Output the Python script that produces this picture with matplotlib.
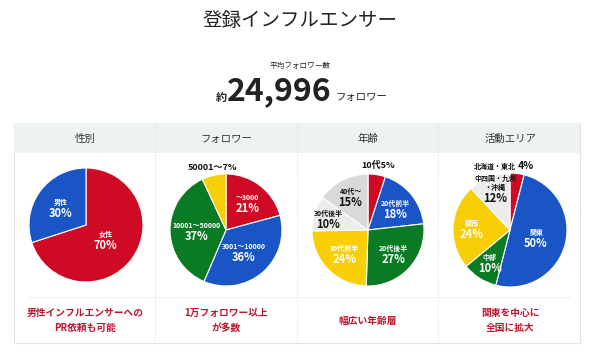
import math
import matplotlib
matplotlib.use("Agg")
import matplotlib.pyplot as plt
from matplotlib.patches import Rectangle

plt.rcParams['font.family'] = ['Noto Sans CJK JP', 'DejaVu Sans']

# data
title = "登録インフルエンサー"
avg_label = "平均フォロワー数"
avg_value = "24,996"

headers = ["性別", "フォロワー", "年齢", "活動エリア"]
notes = ["男性インフルエンサーへの\nPR依頼も可能", "1万フォロワー以上\nが多数",
         "幅広い年齢層", "関東を中心に\n全国に拡大"]

gender_names = ["女性", "男性"]
gender_vals = [70, 30]

follower_names = ["〜3000", "3001〜10000", "10001〜50000", "50001〜"]
follower_vals = [21, 36, 37, 7]

age_names = ["10代", "20代前半", "20代後半", "30代前半", "30代後半", "40代〜"]
age_vals = [5, 18, 27, 24, 10, 15]

area_names = ["北海道・東北", "関東", "中部", "関西", "中四国・九州\n・沖縄"]
area_vals = [4, 50, 10, 24, 12]

RED = "#cf0a25"
BLUE = "#1a55c6"
GREEN = "#0b7a24"
YELLOW = "#f8cf06"
GRAY1 = "#ececec"
GRAY2 = "#d9d9d9"
NOTE_RED = "#c0142e"

W, H = 600, 356
fig = plt.figure(figsize=(W / 100, H / 100), dpi=100)
ax = fig.add_axes([0, 0, 1, 1])


def Y(y):
    return H - y


# title block
ax.text(300, Y(20), title, ha="center", va="center", fontsize=14, color="#222222")
ax.text(300, Y(66), avg_label, ha="center", va="center", fontsize=5.5, color="#222222")
ax.text(221, Y(97), "約", ha="center", va="center", fontsize=8, fontweight="bold", color="#222222")
ax.text(279, Y(91), avg_value, ha="center", va="center", fontsize=23, fontweight="bold", color="#222222")
ax.text(361, Y(97), "フォロワー", ha="center", va="center", fontsize=7.5, color="#222222")

# table frame
left, right, top, head_bot, bottom = 14, 580, 123, 153, 343
ax.add_patch(Rectangle((left, Y(bottom)), right - left, bottom - top,
                       facecolor="white", edgecolor="#e2e2e2", linewidth=0.8, zorder=0))
ax.add_patch(Rectangle((left, Y(head_bot)), right - left, head_bot - top,
                       facecolor="#eef2f3", edgecolor="none", zorder=0.5))
for x in [155, 297, 438]:
    ax.plot([x, x], [Y(top), Y(bottom)], color="#dddddd", linewidth=0.6, linestyle=(0, (1, 1)), zorder=0.6)
ax.plot([28, 570], [Y(297), Y(297)], color="#e2e2e2", linewidth=0.6, linestyle=(0, (2, 1)), zorder=0.6)

col_x = [85, 226, 368, 510]
for cx, h, n in zip(col_x, headers, notes):
    ax.text(cx, Y(139), h, ha="center", va="center", fontsize=7.5, color="#333333")
    ax.text(cx, Y(320.5), n, ha="center", va="center", fontsize=7, fontweight="bold",
            color=NOTE_RED, linespacing=1.6)


def draw_pie(cx, cy, r, vals, names, colors, dists, txt_colors, fmt):
    wedges, _ = ax.pie(vals, colors=colors, startangle=90, counterclock=False,
                       center=(cx, Y(cy)), radius=r, frame=True,
                       wedgeprops=dict(edgecolor="white", linewidth=0.8))
    for w, v, nm, d, tc, f in zip(wedges, vals, names, dists, txt_colors, fmt):
        a = math.radians((w.theta1 + w.theta2) / 2)
        px = cx + d * r * math.cos(a)
        py = Y(cy) + d * r * math.sin(a)
        if f == "inline":
            ax.text(px, py, f"{nm}{v}%", ha="center", va="center", fontsize=6.5,
                    fontweight="bold", color=tc)
        elif f == "split":
            ax.text(px - 2, py, nm, ha="right", va="center", fontsize=5, fontweight="bold", color=tc)
            ax.text(px + 16, py, f"{v}%", ha="right", va="center", fontsize=7.5, fontweight="bold", color=tc)
        else:
            ax.text(px, py + 1, nm, ha="center", va="bottom", fontsize=5, fontweight="bold",
                    color=tc, linespacing=1.3)
            ax.text(px, py, f"{v}%", ha="center", va="top", fontsize=8, fontweight="bold", color=tc)


W_, K_ = "white", "#111111"
draw_pie(86, 225, 57, gender_vals, gender_names, [RED, BLUE],
         [0.42, 0.54], [W_, W_], ["stack"] * 2)
draw_pie(226, 230, 56, follower_vals, follower_names, [RED, BLUE, GREEN, YELLOW],
         [0.64, 0.49, 0.52, 1.14], [W_, W_, W_, K_], ["stack"] * 3 + ["inline"])
draw_pie(368, 230, 56, age_vals, age_names, [RED, BLUE, GREEN, YELLOW, GRAY1, GRAY2],
         [1.16, 0.63, 0.61, 0.59, 0.75, 0.68], [K_, W_, W_, W_, K_, K_], ["inline"] + ["stack"] * 5)
draw_pie(510, 230, 57, area_vals, area_names, [RED, BLUE, GREEN, YELLOW, GRAY1],
         [1.13, 0.47, 0.66, 0.67, 0.72], [K_, W_, W_, W_, K_], ["split"] + ["stack"] * 4)

ax.set_xlim(0, W)
ax.set_ylim(0, H)
ax.set_aspect("auto")
ax.axis("off")

fig.savefig("out.png", dpi=100, facecolor="white")
